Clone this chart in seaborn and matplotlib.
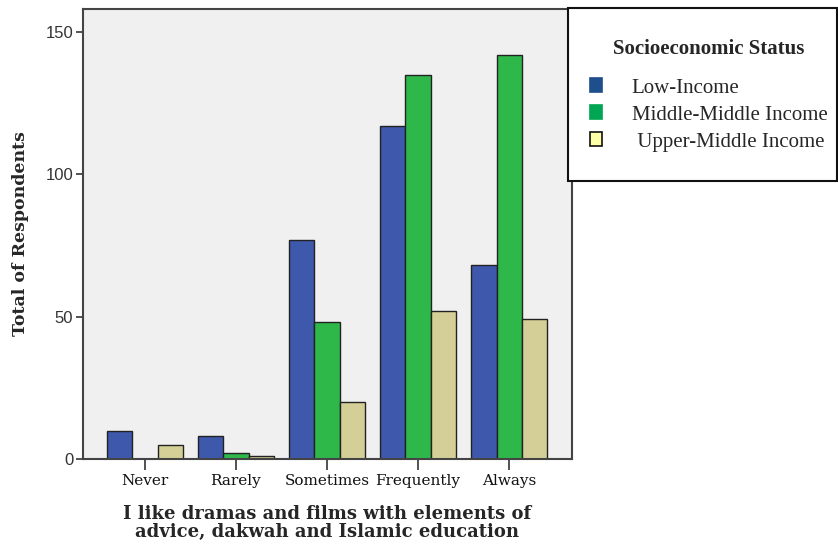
import numpy as np
import pandas as pd
import matplotlib
matplotlib.use("Agg")
import matplotlib.pyplot as plt
import seaborn as sns
from matplotlib.patches import Patch, Rectangle

categories = ["Never", "Rarely", "Sometimes", "Frequently", "Always"]
groups = ["Low-Income", "Middle-Middle Income", "Upper-Middle Income"]
low_income = [10, 8, 77, 117, 68]
middle_income = [0, 2, 48, 135, 142]
upper_income = [5, 1, 20, 52, 49]

bar_colors = ["#3E58AC", "#2EB84A", "#D4CF96"]
legend_colors = ["#1F4E8C", "#00A651", "#FFFFA8"]

df = pd.DataFrame({
    "answer": categories * 3,
    "status": [groups[0]] * 5 + [groups[1]] * 5 + [groups[2]] * 5,
    "count": low_income + middle_income + upper_income,
})

sns.set_style("white")
fig = plt.figure(figsize=(8.38, 5.52), dpi=100)
ax = fig.add_axes([0.099, 0.1685, 0.5836, 0.8152])
ax.set_facecolor("#F0F0F0")

sns.barplot(data=df, x="answer", y="count", hue="status", order=categories,
            hue_order=groups, palette=bar_colors, width=0.835, gap=0,
            edgecolor="#222222", linewidth=1.0, saturation=1, ax=ax, legend=False)

ax.set_xlim(-0.68, 4.69)
ax.set_ylim(0, 158)
ax.set_yticks([0, 50, 100, 150])
ax.tick_params(axis="y", left=True, direction="out", length=5, width=1.3, color="#444444",
               labelsize=12, pad=2)
ax.tick_params(axis="x", bottom=True, direction="out", length=8, width=1.3, color="#444444", pad=3)
for lab in ax.get_yticklabels():
    lab.set_family("Liberation Sans")
    lab.set_color("#333333")
for lab in ax.get_xticklabels():
    lab.set_family("DejaVu Serif")
    lab.set_fontsize(11)
    lab.set_color("#111111")
for s in ax.spines.values():
    s.set_color("#444444")
    s.set_linewidth(1.5)

ax.set_xlabel("I like dramas and films with elements of\nadvice, dakwah and Islamic education",
              fontsize=13, fontweight="bold", family="DejaVu Serif", labelpad=12,
              linespacing=1.0)
ax.set_ylabel("Total of Respondents", fontsize=12.5, fontweight="bold",
              family="DejaVu Serif", labelpad=12)

# legend box drawn separately so its size matches the original
box = Rectangle((568 / 838, 1 - 181 / 552), 269 / 838, 173 / 552,
                transform=fig.transFigure, facecolor="white", edgecolor="#111111",
                linewidth=1.5, zorder=5)
fig.add_artist(box)

legend_labels = ["Low-Income", "Middle-Middle Income", " Upper-Middle Income"]
handles = [Patch(facecolor=c, edgecolor=("#111111" if i == 2 else c), linewidth=1.2)
           for i, c in enumerate(legend_colors)]
leg = fig.legend(handles, legend_labels, loc="upper left", bbox_to_anchor=(0.704, 0.9293),
                 title="Socioeconomic Status", frameon=False,
                 prop={"family": "Liberation Serif", "size": 15},
                 handlelength=0.6, handleheight=0.65, handletextpad=1.4,
                 labelspacing=0.37, borderpad=0, borderaxespad=0)
leg.set_zorder(6)
leg.get_title().set_fontweight("bold")
leg.get_title().set_family("Liberation Serif")
leg.get_title().set_fontsize(15)
leg._legend_box.sep = 14

fig.savefig("out.png", dpi=100, facecolor="white")
